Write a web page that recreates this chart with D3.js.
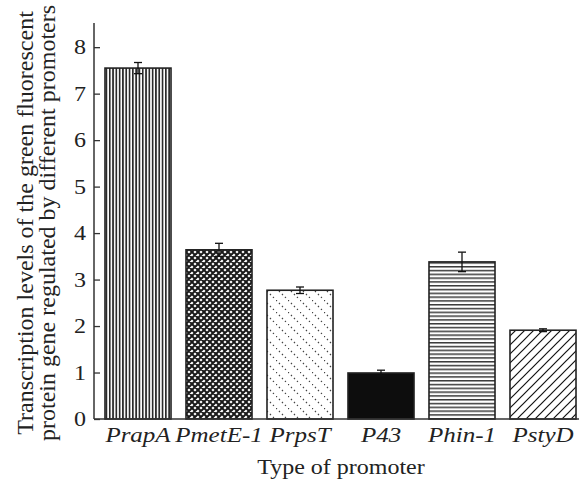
<!DOCTYPE html>
<html>
<head>
<meta charset="utf-8">
<script src="https://cdn.jsdelivr.net/npm/d3@7"></script>
<style>
  body { margin: 0; background: #fff; }
  svg { display: block; font-family: "Liberation Serif", "Times New Roman", serif; }
</style>
</head>
<body>
<svg id="chart" width="580" height="482"></svg>
<script>
const promoters = ['PrapA', 'PmetE-1', 'PrpsT', 'P43', 'Phin-1', 'PstyD'];
const levels = [7.55, 3.64, 2.77, 0.99, 3.38, 1.91];
const errors = [0.12, 0.14, 0.07, 0.06, 0.21, 0.03];
const fills = ['vlines', 'xhatch', 'dotdiag', 'solid', 'hlines', 'diag'];
const yTicks = [0, 1, 2, 3, 4, 5, 6, 7, 8];

const svg = d3.select('#chart');
const defs = svg.append('defs');

// hatch patterns
const pv = defs.append('pattern').attr('id', 'vlines').attr('patternUnits', 'userSpaceOnUse')
  .attr('width', 3.3).attr('height', 10);
pv.append('rect').attr('width', 1.7).attr('height', 10).attr('fill', '#2b2b2b');

const px = defs.append('pattern').attr('id', 'xhatch').attr('patternUnits', 'userSpaceOnUse')
  .attr('width', 6).attr('height', 6);
px.append('rect').attr('width', 6).attr('height', 6).attr('fill', '#fff');
px.append('path').attr('d', 'M0,0L6,6M6,0L0,6M-1,1L1,-1M5,7L7,5M-1,5L1,7M5,-1L7,1')
  .attr('stroke', '#1a1a1a').attr('stroke-width', 2);

const pd = defs.append('pattern').attr('id', 'dotdiag').attr('patternUnits', 'userSpaceOnUse')
  .attr('width', 12).attr('height', 12);
pd.append('path').attr('d', 'M0,0L12,12')
  .attr('stroke', '#444').attr('stroke-width', 1.3).attr('stroke-dasharray', '1.3 2.94');

const ph = defs.append('pattern').attr('id', 'hlines').attr('patternUnits', 'userSpaceOnUse')
  .attr('width', 10).attr('height', 3.8);
ph.append('rect').attr('width', 10).attr('height', 1.5).attr('fill', '#3a3a3a');

const pg = defs.append('pattern').attr('id', 'diag').attr('patternUnits', 'userSpaceOnUse')
  .attr('width', 9).attr('height', 9);
pg.append('path').attr('d', 'M0,9L9,0M-2,2L2,-2M7,11L11,7')
  .attr('stroke', '#111').attr('stroke-width', 1.2);

const x = d3.scaleBand().domain(promoters).range([97.5, 583.5])
  .paddingInner(0.185).paddingOuter(0.0925);
const y = d3.scaleLinear().domain([0, 8.52]).range([419, 23]);

// bars
svg.append('g').selectAll('rect')
  .data(promoters)
  .join('rect')
  .attr('x', d => x(d))
  .attr('y', (d, i) => y(levels[i]))
  .attr('width', x.bandwidth())
  .attr('height', (d, i) => y(0) - y(levels[i]))
  .attr('fill', (d, i) => fills[i] === 'solid' ? '#0d0d0d' : `url(#${fills[i]})`)
  .attr('stroke', '#222')
  .attr('stroke-width', 1.6);

// error bars
const eg = svg.append('g').attr('stroke', '#111').attr('stroke-width', 1.3);
promoters.forEach((p, i) => {
  const cx = x(p) + x.bandwidth() / 2;
  const top = y(levels[i] + errors[i]), bot = y(levels[i] - errors[i]);
  eg.append('line').attr('x1', cx).attr('x2', cx).attr('y1', top).attr('y2', bot);
  eg.append('line').attr('x1', cx - 4).attr('x2', cx + 4).attr('y1', top).attr('y2', top);
  eg.append('line').attr('x1', cx - 4).attr('x2', cx + 4).attr('y1', bot).attr('y2', bot);
});

// y axis (ticks point inward)
const yAxis = svg.append('g').attr('transform', 'translate(94,0)')
  .call(d3.axisRight(y).tickValues(yTicks).tickSize(6).tickFormat(d3.format('d')));
yAxis.select('.domain').remove();
yAxis.selectAll('.tick line').attr('stroke', '#333').attr('stroke-width', 1.3);
yAxis.selectAll('.tick text').attr('x', null).attr('dy', '0.34em')
  .attr('transform', 'translate(-8,0) scale(1.2,1)').attr('text-anchor', 'end')
  .attr('font-size', 20).attr('font-family', '"Liberation Serif", serif').attr('fill', '#222');
svg.append('line').attr('x1', 94).attr('x2', 94).attr('y1', 23).attr('y2', 419)
  .attr('stroke', '#333').attr('stroke-width', 1.5);

// x axis
svg.append('line').attr('x1', 94).attr('x2', 579).attr('y1', 419).attr('y2', 419)
  .attr('stroke', '#333').attr('stroke-width', 1.5);
svg.append('g').selectAll('text')
  .data(promoters)
  .join('text')
  .attr('transform', d => `translate(${x(d) + x.bandwidth() / 2},442) scale(1.25,1)`)
  .attr('text-anchor', 'middle')
  .attr('font-size', 20)
  .attr('font-style', 'italic')
  .attr('fill', '#222')
  .text(d => d);

svg.append('text').attr('transform', 'translate(341,474) scale(1.2,1)').attr('text-anchor', 'middle')
  .attr('font-size', 20).attr('fill', '#222').text('Type of promoter');

// y title, two lines
const yt = svg.append('text').attr('transform', 'translate(33,223) rotate(-90)')
  .attr('text-anchor', 'middle').attr('font-size', 24).attr('fill', '#222');
yt.append('tspan').attr('x', 0).attr('y', 0).text('Transcription levels of the green fluorescent');
yt.append('tspan').attr('x', 0).attr('y', 22).text('protein gene regulated by different promoters');
</script>
</body>
</html>
